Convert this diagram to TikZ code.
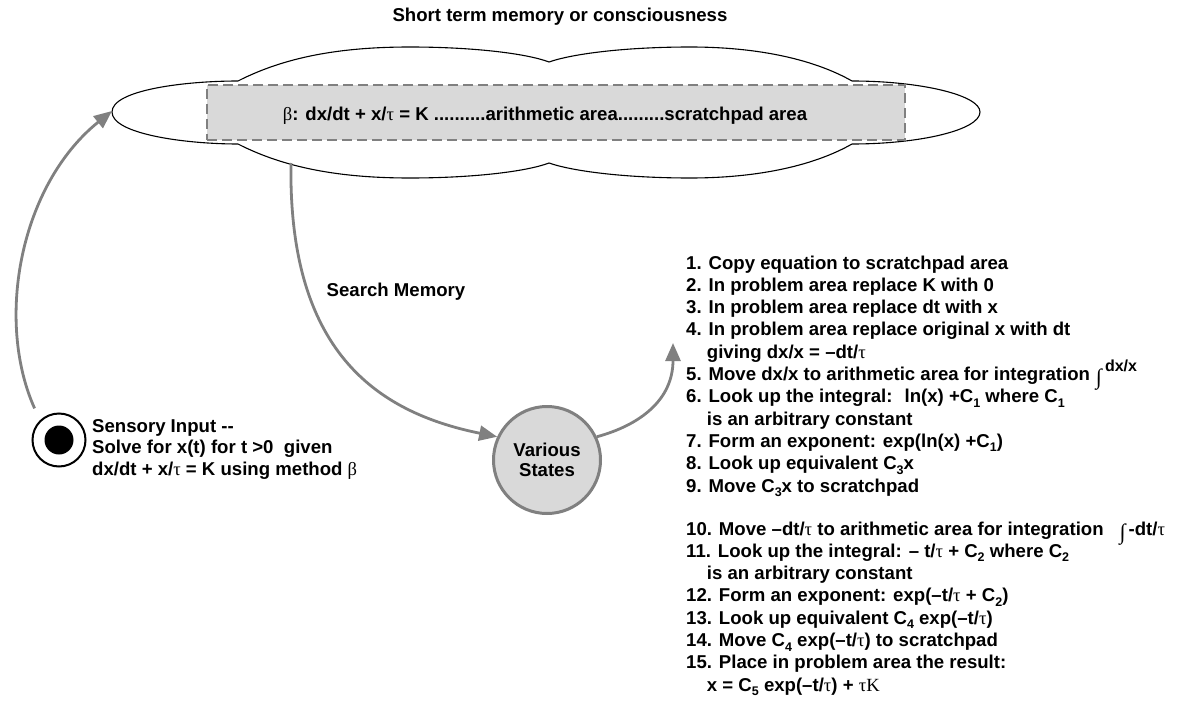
\documentclass[tikz,border=0pt]{standalone}
\usepackage{fontspec}
\setmainfont{Liberation Sans}
\newfontfamily\symf{Liberation Serif}
\usetikzlibrary{arrows.meta}
\definecolor{linegray}{RGB}{128,128,128}
\definecolor{fillgray}{RGB}{217,217,217}
\newcommand\Ttau{{\symf\mdseries τ}}
\newcommand\Bbeta{{\symf\mdseries β}}
\newcommand\Lsub[1]{\raisebox{-4.5pt}[0pt][0pt]{\fontsize{12.5}{12.5}\selectfont #1}}
\newcommand\Integ{\raisebox{-4pt}[0pt][0pt]{\fontsize{22}{22}\selectfont\symf\mdseries ∫}}
\tikzset{
  txt/.style={font=\bfseries\fontsize{18.6}{22.3}\selectfont, inner sep=0pt},
  connector/.style={draw=linegray, line width=2.8pt, -{Triangle[length=18pt,width=15pt]}},
  cloudline/.style={draw=black, line width=1.1pt},
  wmbox/.style={draw=linegray, fill=fillgray, line width=2.6pt, dash pattern=on 10pt off 5pt,
    minimum width=698pt, minimum height=55pt, inner sep=0pt},
  statecircle/.style={circle, draw=linegray, fill=fillgray, line width=3pt, minimum size=107pt,
    inner sep=0pt, align=center, font=\bfseries\fontsize{18.6}{20}\selectfont},
  sensring/.style={circle, draw=black, line width=2pt, minimum size=53pt, inner sep=0pt},
  sensdot/.style={circle, fill=black, minimum size=29pt, inner sep=0pt},
}
\begin{document}
\begin{tikzpicture}[x=1pt,y=-1pt]
\useasboundingbox (0,0) rectangle (1177,706);

% title
\node[txt, anchor=base] (title) at (560,21.7) {Short term memory or consciousness};

% cloud
\draw[cloudline] (112,112) .. controls (112,90) and (185,81) .. (238,81)
  .. controls (285,57) and (340,47) .. (410,47)
  .. controls (470,47) and (525,53) .. (549,62)
  .. controls (575,53) and (630,47) .. (690,47)
  .. controls (760,47) and (815,60) .. (852,81)
  .. controls (920,81) and (980,95) .. (980,112)
  .. controls (980,130) and (920,144) .. (852,144)
  .. controls (815,165) and (760,178) .. (690,178)
  .. controls (630,178) and (575,172) .. (549,163)
  .. controls (525,172) and (470,178) .. (410,178)
  .. controls (340,178) and (285,168) .. (238,144)
  .. controls (185,144) and (112,134) .. (112,112) -- cycle;
\coordinate (cloudL) at (112,111);
\coordinate (cloudB) at (291,163);

% working area box
\node[wmbox] (wm) at (556,112.5) {};
\node[txt, anchor=base] (wmtext) at (545,120.5)
  {\Bbeta: dx/dt + x/\Ttau{} = K ..........arithmetic area.........scratchpad area};

% sensory input
\node[sensring] (sens) at (59,440) {};
\node[sensdot] (sensc) at (59,440) {};
\node[txt, anchor=north west, align=left, font=\bfseries\fontsize{18.6}{21.7}\selectfont]
  (senstext) at (92,413.8)
  {\rule{0pt}{18pt}Sensory Input -{}-\\Solve for x(t) for t >0 \ given\\dx/dt + x/\Ttau{} = K using method \Bbeta};

% various states
\node[statecircle] (vs) at (547,460) {Various\\States};

% search memory label
\node[txt, anchor=base] (smlabel) at (396,296) {Search Memory};

% steps
\coordinate (listin) at (673,343);
\node[txt, anchor=north west, align=left] (steps1) at (686,250.8)
  {\rule{0pt}{18pt}1. Copy equation to scratchpad area\\
   2. In problem area replace K with 0\\
   3. In problem area replace dt with x\\
   4. In problem area replace original x with dt\\
   \hspace*{20.7pt}giving dx/x = –dt/\Ttau\\
   5. Move dx/x to arithmetic area for integration\hspace{6pt}\Integ\hspace{3pt}\raisebox{9pt}[0pt][0pt]{\fontsize{16}{16}\selectfont dx/x}\\
   6. Look up the integral: \ ln(x) +C\Lsub{1} where C\Lsub{1}\\
   \hspace*{20.7pt}is an arbitrary constant\\
   7. Form an exponent: exp(ln(x) +C\Lsub{1})\\
   8. Look up equivalent C\Lsub{3}x\\
   9. Move C\Lsub{3}x to scratchpad};
\node[txt, anchor=north west, align=left] (steps2) at (686,516.8)
  {\rule{0pt}{18pt}10. Move –dt/\Ttau{} to arithmetic area for integration\hspace{16pt}\Integ\hspace{3pt}-dt/\Ttau\\
   11. Look up the integral: – t/\Ttau{} + C\Lsub{2} where C\Lsub{2}\\
   \hspace*{20.7pt}is an arbitrary constant\\
   12. Form an exponent: exp(–t/\Ttau{} + C\Lsub{2})\\
   13. Look up equivalent C\Lsub{4} exp(–t/\Ttau)\\
   14. Move C\Lsub{4} exp(–t/\Ttau) to scratchpad\\
   15. Place in problem area the result:\\
   \hspace*{20.7pt}x = C\Lsub{5} exp(–t/\Ttau) + {\symf\mdseries τK}};

% connectors
\draw[connector, shorten <=13pt] (sens.134) .. controls (-5,320) and (20,185) .. (cloudL);
\draw[connector] (cloudB) .. controls (288,350) and (375,412) .. (vs.155);
\draw[connector] (vs.25) .. controls (640,425) and (673,400) .. (listin);
\end{tikzpicture}
\end{document}
